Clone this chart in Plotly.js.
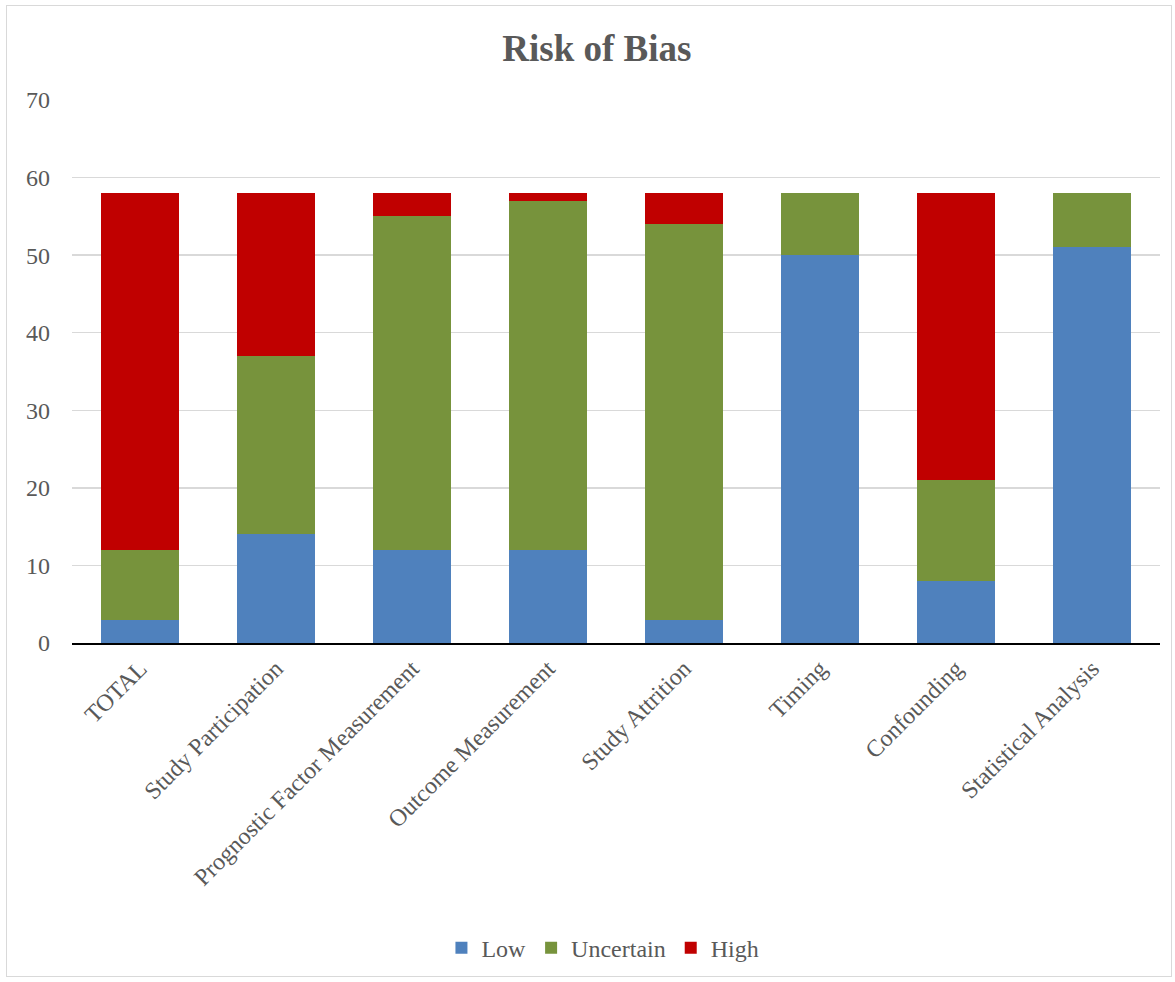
<!DOCTYPE html>
<html>
<head>
<meta charset="utf-8">
<script src="https://cdn.plot.ly/plotly-3.0.1.min.js"></script>
<style>
html,body{margin:0;padding:0;background:#fff;}
#wrap{position:relative;width:1175px;height:982px;}
#frame{position:absolute;left:6px;top:5px;width:1166px;height:972px;border:1px solid #d9d9d9;box-sizing:border-box;pointer-events:none;}
#chart{position:absolute;left:0;top:0;width:1175px;height:982px;}
</style>
</head>
<body>
<div id="wrap"><div id="chart"></div><div id="frame"></div></div>
<script>
const categories = ["TOTAL","Study Participation","Prognostic Factor Measurement","Outcome Measurement","Study Attrition","Timing","Confounding","Statistical Analysis"];
const lowValues = [3,14,12,12,3,50,8,51];
const uncertainValues = [9,23,43,45,51,8,13,7];
const highValues = [46,21,3,1,4,0,37,0];
const yTicks = [0,10,20,30,40,50,60,70];

const fontFam = "Liberation Serif, DejaVu Serif, serif";
const mk = (name, y, color) => ({type:"bar", name, x:categories, y, marker:{color, line:{width:0}}, hoverinfo:"x+y+name"});
const data = [
  mk("Low", lowValues, "#4F81BD"),
  mk("Uncertain", uncertainValues, "#77933C"),
  mk("High", highValues, "#C00000")
];
const layout = {
  width:1175, height:982,
  margin:{l:72, r:15, t:100, b:339},
  paper_bgcolor:"rgba(0,0,0,0)", plot_bgcolor:"#fff",
  barmode:"stack", bargap:0.43,
  font:{family:fontFam, color:"#595959", size:22},
  title:{text:"<b>Risk of Bias</b>", x:0.508, xref:"container", xanchor:"center", y:0.951, yanchor:"middle", font:{family:fontFam, size:37, color:"#595959"}},
  xaxis:{tickangle:-45, showline:true, linecolor:"#000", linewidth:2, ticks:"", showgrid:false, tickfont:{size:24, color:"#595959"}, automargin:false},
  yaxis:{range:[0,70], tickvals:yTicks, showgrid:true, gridcolor:"#d9d9d9", gridwidth:1.5, zeroline:false, showline:false, ticks:"", ticklabelstandoff:21, tickfont:{size:24, color:"#595959"}, automargin:false},
  legend:{orientation:"h", x:0.488, xanchor:"center", y:-0.562, yanchor:"middle", font:{size:24, color:"#595959"}, traceorder:"normal", itemwidth:30}
};
Plotly.newPlot("chart", data, layout, {displayModeBar:false, staticPlot:true});
</script>
</body>
</html>
